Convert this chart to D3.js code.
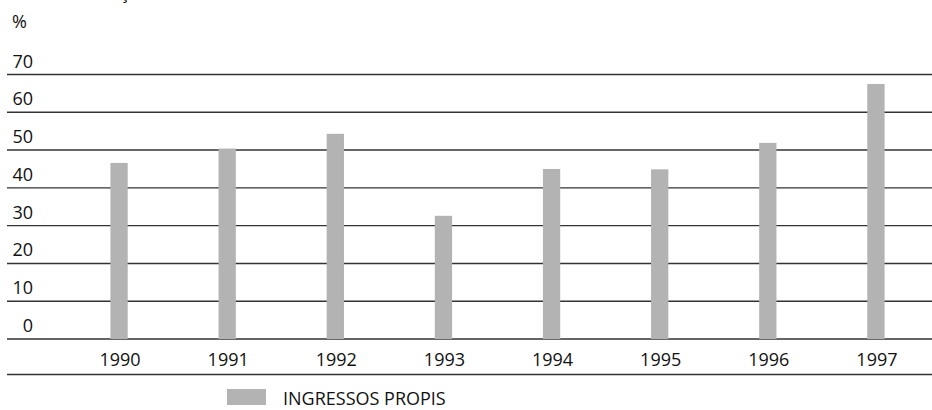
<!DOCTYPE html>
<html><head><meta charset="utf-8">
<script src="https://cdn.jsdelivr.net/npm/d3@7"></script>
<style>body{margin:0;background:#fff}svg{display:block}text{font-family:"Open Sans",sans-serif;fill:#111}</style>
</head><body>
<svg id="c" width="932" height="410"></svg>
<script>
const years = ["1990","1991","1992","1993","1994","1995","1996","1997"];
const ingressosPropis = [46.6, 50.4, 54.3, 32.6, 45.0, 44.9, 51.9, 67.5];
const yTicks = [0,10,20,30,40,50,60,70];
const seriesName = "INGRESSOS PROPIS";

const svg = d3.select("#c");
const x = d3.scaleBand().domain(years).range([65, 930]).paddingInner(0.84).paddingOuter(0.42);
const y = d3.scaleLinear().domain([0,70]).range([339, 74.5]);

// cut-off title remnant
svg.append("text").attr("x",120).attr("y",-1).style("font-size","18px").text("ç");

svg.append("text").attr("x",12).attr("y",28).style("font-size","18px").text("%");

// gridlines
svg.append("g").selectAll("line").data(yTicks).join("line")
  .attr("x1",7).attr("x2",932).attr("y1",d=>y(d)).attr("y2",d=>y(d))
  .attr("stroke","#333").attr("stroke-width",1.4);

svg.append("g").selectAll("text").data(yTicks).join("text")
  .attr("x",33).attr("y",d=>y(d)-7).attr("text-anchor","end").style("font-size","18px")
  .text(d=>d);

// bars
svg.append("g").selectAll("rect").data(years).join("rect")
  .attr("x",d=>x(d)).attr("width",x.bandwidth())
  .attr("y",(d,i)=>y(ingressosPropis[i])).attr("height",(d,i)=>y(0)-y(ingressosPropis[i]))
  .attr("fill","#b3b3b3");

// x labels
svg.append("g").selectAll("text").data(years).join("text")
  .attr("x",d=>x(d)+x.bandwidth()/2+1).attr("y",366).attr("text-anchor","middle").style("font-size","18px")
  .text(d=>d);

// bottom rule
svg.append("line").attr("x1",7).attr("x2",932).attr("y1",374.5).attr("y2",374.5)
  .attr("stroke","#333").attr("stroke-width",1.4);

// legend
svg.append("rect").attr("x",227).attr("y",389).attr("width",39).attr("height",16).attr("fill","#b3b3b3");
svg.append("text").attr("x",283).attr("y",405).style("font-size","18px").text(seriesName);
</script>
</body></html>
